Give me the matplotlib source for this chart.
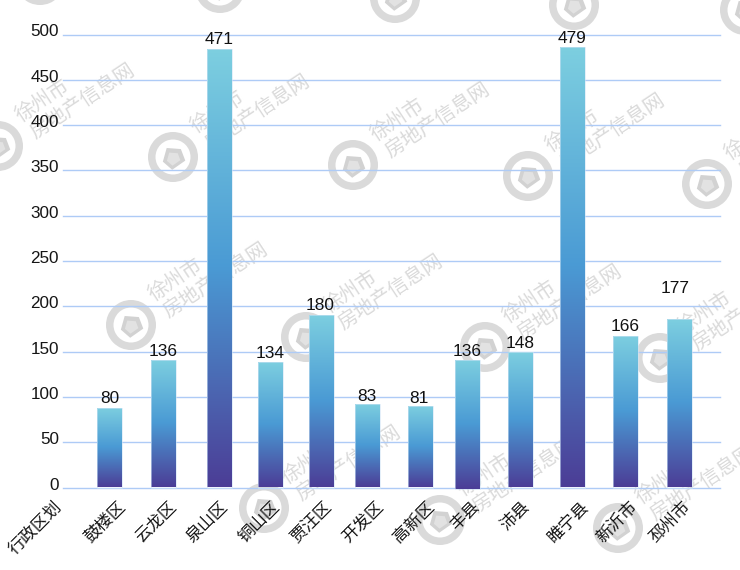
#!/usr/bin/env python3
# -*- coding: utf-8 -*-
import matplotlib
matplotlib.use('Agg')
import matplotlib.pyplot as plt
import numpy as np
from matplotlib.colors import LinearSegmentedColormap
from matplotlib.patches import Polygon, Wedge
from matplotlib.transforms import ScaledTranslation

plt.rcParams['font.family'] = ['Liberation Sans', 'DejaVu Sans']

W, H = 740, 570

corner_label = '行政区划'
districts = ['鼓楼区', '云龙区', '泉山区', '铜山区', '贾汪区', '开发区',
             '高新区', '丰县', '沛县', '睢宁县', '新沂市', '邳州市']
label_text = [80, 136, 471, 134, 180, 83, 81, 136, 148, 479, 166, 177]
# the drawn bars do not agree with their printed labels, so both are kept
bar_height = [88, 141, 484, 138.5, 190, 92, 90, 141, 150, 486, 167, 186]
bar_bottom = [0, 0, 0, 0, 0, 0, 0, -2, 0, 0, 0, 0]
yticks = [0, 50, 100, 150, 200, 250, 300, 350, 400, 450, 500]

# x is in picture pixels, the bars are not evenly spaced
bar_x = [109.5, 163, 219, 270, 321, 367, 420, 467.5, 520.5, 572, 625, 679]
tick_x = [116, 167, 219, 271, 322, 374, 425, 470, 520, 580, 629, 682]
label_x = [110, 163, 219, 270, 320, 367, 419, 467, 520, 572, 625, 675]
label_y = [98, 150, 495, 148, 201, 100, 98, 150, 159, 496, 178, 220]

rings = [(-2, 146), (173, 157), (353, 165), (528, 176), (707, 184),
         (131, 325), (306, 337), (485, 347), (660, 358),
         (264, 508), (440, 520), (618, 528)]
top_rings = [(395, -2), (574, 5), (745, 10), (220, -12), (40, -20)]

fig = plt.figure(figsize=(W/100, H/100), dpi=100, facecolor='white')

# watermark layer, in pixels
wm = fig.add_axes([0, 0, 1, 1], zorder=0)
wm.set_xlim(0, W)
wm.set_ylim(H, 0)
wm.axis('off')
gray = '#dadada'
house = np.array([[0, -11], [11, -2], [8, 10], [-8, 10], [-11, -2]])
angle = np.radians(-35)
rot = np.array([[np.cos(angle), -np.sin(angle)], [np.sin(angle), np.cos(angle)]])
for cx, cy in rings + top_rings:
    wm.add_patch(Wedge((cx, cy), 25, 0, 360, width=7.5, color=gray, lw=0))
    wm.add_patch(Polygon(house @ rot.T + [cx, cy], color='#d2d2d2', lw=0))
    wm.add_patch(Polygon(0.6*house @ rot.T + [cx, cy + 1], color='#e2e2e2', lw=0))
for cx, cy in rings:
    wm.text(cx + 19, cy - 28, '徐州市', family=['Noto Sans CJK SC'], fontsize=14.5,
            color=gray, rotation=33.5, rotation_mode='anchor', ha='left', va='center')
    wm.text(cx + 34, cy - 11, '房地产信息网', family=['Noto Sans CJK SC'], fontsize=14.5,
            color=gray, rotation=33.5, rotation_mode='anchor', ha='left', va='center')

ax = fig.add_axes([63/W, 1 - 487.5/H, (720 - 63)/W, 453/H], zorder=1)
ax.patch.set_alpha(0)
ax.set_xlim(63, 720)
ax.set_ylim(0, 500)
for s in ax.spines.values():
    s.set_visible(False)

ax.set_axisbelow(True)
ax.grid(axis='y', color='#aecbf6', lw=1, clip_on=False)
ax.set_yticks(yticks)
ax.tick_params(axis='y', length=0, pad=3, labelsize=12.3, labelcolor='#151515')
for lab in ax.get_yticklabels():
    lab.set_transform(lab.get_transform() + ScaledTranslation(0, 4/100, fig.dpi_scale_trans))

ax.set_xticks(tick_x)
ax.set_xticklabels(districts, family=['Noto Sans CJK SC'], fontsize=12.2, rotation=45,
                   ha='right', va='top', rotation_mode='anchor', color='#151515')
ax.tick_params(axis='x', length=0, pad=7)
# this one sits left of the axes, where no tick can go
ax.annotate(corner_label, xy=(52, 0), xycoords=('data', 'axes fraction'),
            xytext=(0, -7), textcoords='offset points', annotation_clip=False,
            family=['Noto Sans CJK SC'], fontsize=12.2, rotation=45,
            ha='right', va='top', rotation_mode='anchor', color='#151515')

# gradient fill, clipped to each bar
cmap = LinearSegmentedColormap.from_list('bar', ['#4c3d96', '#4a9ad4', '#7dcfe0'])
grad = np.linspace(1, 0, 256).reshape(-1, 1)
bars = ax.bar(bar_x, np.array(bar_height) - np.array(bar_bottom), width=25, bottom=bar_bottom,
              color='none', edgecolor='#cfe4f5', lw=0.4, zorder=3, clip_on=False)
for b in bars:
    im = ax.imshow(grad, cmap=cmap, aspect='auto', zorder=2.5,
                   extent=[b.get_x(), b.get_x() + b.get_width(), b.get_y(), b.get_y() + b.get_height()])
    im.set_clip_path(b)
ax.set_xlim(63, 720)
ax.set_ylim(0, 500)

for x, y, v in zip(label_x, label_y, label_text):
    ax.text(x, y, str(v), ha='center', va='center', fontsize=12.4, color='#111111', zorder=4)

plt.savefig('out.png', dpi=100)
